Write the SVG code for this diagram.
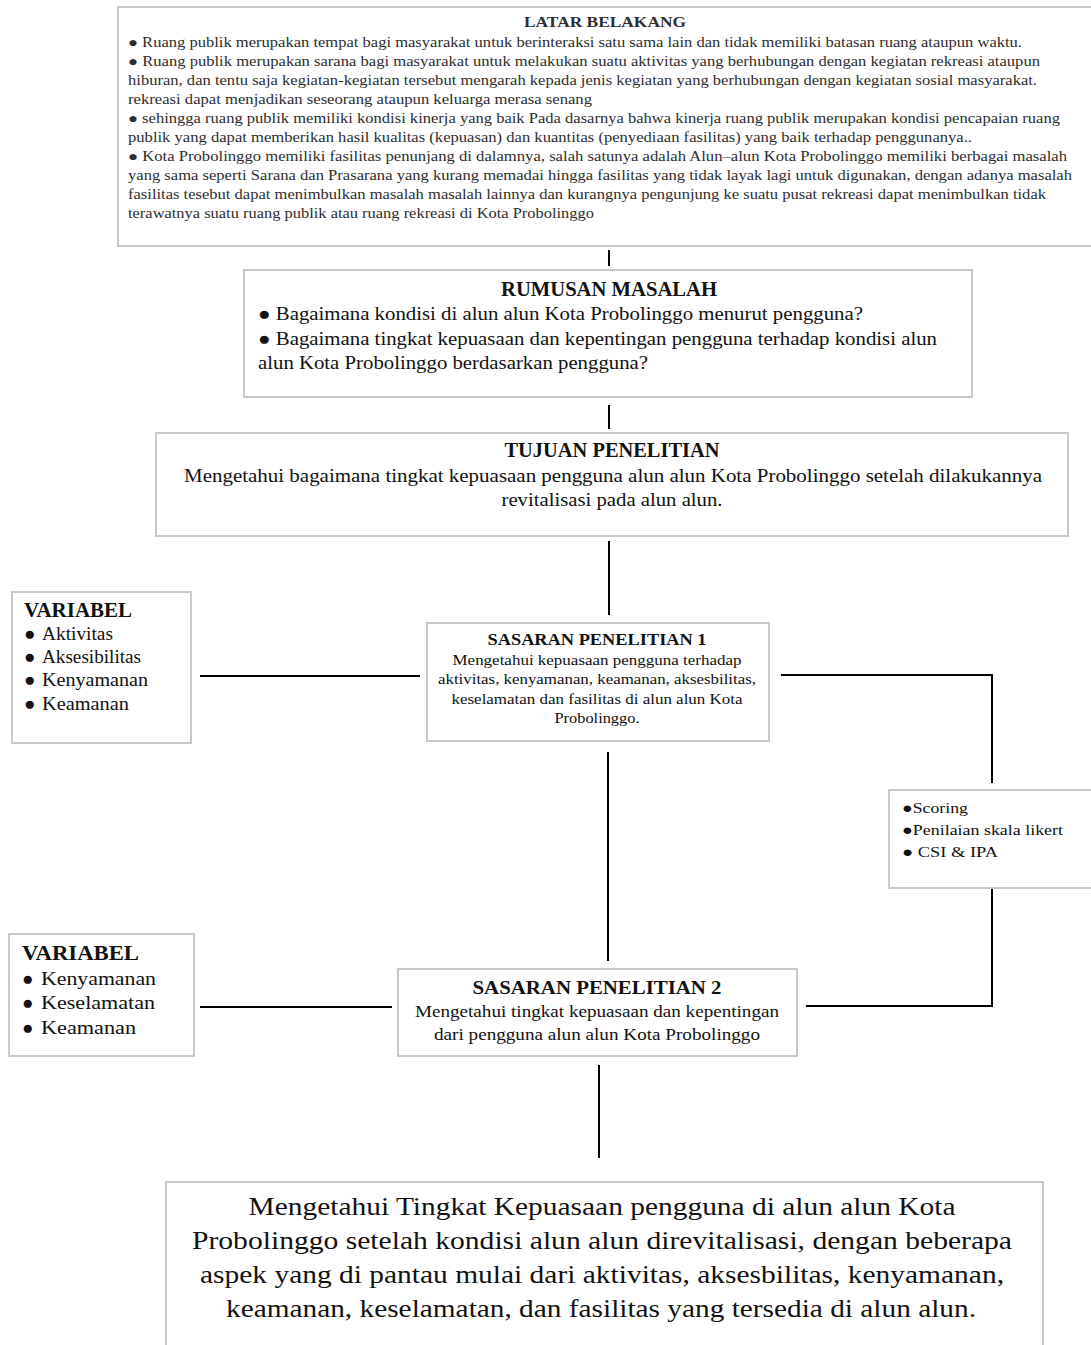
<svg xmlns="http://www.w3.org/2000/svg" width="1091" height="1345" viewBox="0 0 1091 1345">
<style>
.box{fill:#fff;stroke:#c8c8c8;stroke-width:2}
.conn{stroke:#000;stroke-width:2;fill:none}
text{font-family:"Liberation Serif","Times New Roman",serif;fill:#111}
.t13{font-size:14px;fill:#2e2e2e}
.h13{font-size:14px;font-weight:bold;fill:#2e2e2e}
.t19{font-size:19px}
.h20{font-size:20px;font-weight:bold}
.t15{font-size:15px}
.h16{font-size:16px;font-weight:bold}
.t16{font-size:16px}
.h18{font-size:18px;font-weight:bold}
.t26{font-size:26px}
.c{text-anchor:middle}
</style>
<rect width="1091" height="1345" fill="#fff"/>
<g id="connectors">
<line class="conn" x1="609" y1="250" x2="609" y2="266"/>
<line class="conn" x1="609" y1="405" x2="609" y2="429"/>
<line class="conn" x1="609" y1="541" x2="609" y2="615"/>
<line class="conn" x1="200" y1="676" x2="420" y2="676"/>
<polyline class="conn" points="781,675 992,675 992,783"/>
<polyline class="conn" points="992,888 992,1006 806,1006"/>
<line class="conn" x1="608" y1="752" x2="608" y2="961"/>
<line class="conn" x1="200" y1="1007" x2="392" y2="1007"/>
<line class="conn" x1="599" y1="1065" x2="599" y2="1158"/>
</g>
<g id="latar-belakang">
<rect class="box" x="118" y="7" width="980" height="239" stroke="#d4d4d4"/>
<text class="h13 c" x="605" y="27" textLength="162" lengthAdjust="spacingAndGlyphs">LATAR BELAKANG</text>
<text class="t13" x="128" y="47" textLength="894" lengthAdjust="spacingAndGlyphs">● Ruang publik  merupakan tempat bagi masyarakat untuk berinteraksi satu sama lain dan tidak memiliki  batasan ruang ataupun waktu.</text>
<text class="t13" x="128" y="66" textLength="912" lengthAdjust="spacingAndGlyphs">● Ruang publik  merupakan sarana bagi masyarakat untuk melakukan suatu aktivitas yang berhubungan dengan kegiatan rekreasi ataupun</text>
<text class="t13" x="128" y="85" textLength="909" lengthAdjust="spacingAndGlyphs">hiburan,  dan tentu saja kegiatan-kegiatan tersebut mengarah kepada jenis kegiatan yang berhubungan dengan kegiatan sosial masyarakat.</text>
<text class="t13" x="128" y="104" textLength="464" lengthAdjust="spacingAndGlyphs">rekreasi dapat menjadikan  seseorang ataupun keluarga merasa senang</text>
<text class="t13" x="128" y="123" textLength="932" lengthAdjust="spacingAndGlyphs">● sehingga ruang publik  memiliki  kondisi  kinerja yang baik Pada dasarnya bahwa kinerja ruang publik  merupakan kondisi  pencapaian ruang</text>
<text class="t13" x="128" y="142" textLength="844" lengthAdjust="spacingAndGlyphs">publik  yang dapat memberikan hasil kualitas (kepuasan) dan kuantitas (penyediaan fasilitas)  yang baik  terhadap penggunanya..</text>
<text class="t13" x="128" y="161" textLength="939" lengthAdjust="spacingAndGlyphs">● Kota Probolinggo  memiliki  fasilitas penunjang  di dalamnya,  salah satunya adalah Alun–alun  Kota Probolinggo   memiliki  berbagai masalah</text>
<text class="t13" x="128" y="180" textLength="944" lengthAdjust="spacingAndGlyphs">yang sama seperti Sarana dan Prasarana yang kurang memadai hingga  fasilitas  yang tidak layak lagi  untuk  digunakan,  dengan adanya masalah</text>
<text class="t13" x="128" y="199" textLength="918" lengthAdjust="spacingAndGlyphs">fasilitas  tesebut dapat menimbulkan  masalah masalah lainnya dan kurangnya  pengunjung  ke suatu pusat rekreasi dapat menimbulkan  tidak</text>
<text class="t13" x="128" y="218" textLength="466" lengthAdjust="spacingAndGlyphs">terawatnya suatu ruang publik  atau ruang rekreasi di Kota Probolinggo</text>
</g>
<g id="rumusan-masalah">
<rect class="box" x="244" y="270" width="728" height="127"/>
<text class="h20 c" x="609" y="296" textLength="216" lengthAdjust="spacingAndGlyphs">RUMUSAN MASALAH</text>
<text class="t19" x="258" y="320" textLength="605" lengthAdjust="spacingAndGlyphs">● Bagaimana  kondisi di alun alun Kota Probolinggo  menurut pengguna?</text>
<text class="t19" x="258" y="345" textLength="679" lengthAdjust="spacingAndGlyphs">● Bagaimana  tingkat kepuasaan dan kepentingan pengguna terhadap kondisi alun</text>
<text class="t19" x="258" y="369" textLength="390" lengthAdjust="spacingAndGlyphs">alun Kota Probolinggo  berdasarkan pengguna?</text>
</g>
<g id="tujuan-penelitian">
<rect class="box" x="156" y="433" width="912" height="103"/>
<text class="h20 c" x="612" y="457" textLength="215" lengthAdjust="spacingAndGlyphs">TUJUAN PENELITIAN</text>
<text class="t19" x="184" y="482" textLength="858" lengthAdjust="spacingAndGlyphs">Mengetahui bagaimana  tingkat kepuasaan pengguna alun alun Kota Probolinggo setelah dilakukannya</text>
<text class="t19 c" x="612" y="506" textLength="221" lengthAdjust="spacingAndGlyphs">revitalisasi pada alun alun.</text>
</g>
<g id="variabel-1">
<rect class="box" x="12" y="592" width="179" height="151"/>
<text class="h20" x="24" y="617" textLength="108" lengthAdjust="spacingAndGlyphs">VARIABEL</text>
<text class="t19" x="24" y="640">●</text><text class="t19" x="42" y="640" textLength="71" lengthAdjust="spacingAndGlyphs">Aktivitas</text>
<text class="t19" x="24" y="663">●</text><text class="t19" x="42" y="663" textLength="99" lengthAdjust="spacingAndGlyphs">Aksesibilitas</text>
<text class="t19" x="24" y="686">●</text><text class="t19" x="42" y="686" textLength="106" lengthAdjust="spacingAndGlyphs">Kenyamanan</text>
<text class="t19" x="24" y="710">●</text><text class="t19" x="42" y="710" textLength="87" lengthAdjust="spacingAndGlyphs">Keamanan</text>
</g>
<g id="sasaran-1">
<rect class="box" x="427" y="623" width="342" height="118"/>
<text class="h16 c" x="597" y="645" textLength="219" lengthAdjust="spacingAndGlyphs">SASARAN PENELITIAN  1</text>
<text class="t15 c" x="597" y="665" textLength="289" lengthAdjust="spacingAndGlyphs">Mengetahui kepuasaan pengguna  terhadap</text>
<text class="t15 c" x="597" y="684" textLength="318" lengthAdjust="spacingAndGlyphs">aktivitas, kenyamanan, keamanan,  aksesbilitas,</text>
<text class="t15 c" x="597" y="704" textLength="291" lengthAdjust="spacingAndGlyphs">keselamatan dan fasilitas di alun alun Kota</text>
<text class="t15 c" x="597" y="723" textLength="85" lengthAdjust="spacingAndGlyphs">Probolinggo.</text>
</g>
<g id="metode">
<rect class="box" x="889" y="790" width="210" height="98" stroke="#dcdcdc"/>
<text class="t15" x="902" y="813" textLength="66" lengthAdjust="spacingAndGlyphs">●Scoring</text>
<text class="t15" x="902" y="835" textLength="161" lengthAdjust="spacingAndGlyphs">●Penilaian  skala likert</text>
<text class="t15" x="902" y="857" textLength="96" lengthAdjust="spacingAndGlyphs">● CSI &amp; IPA</text>
</g>
<g id="variabel-2">
<rect class="box" x="9" y="934" width="185" height="122"/>
<text class="h20" x="22" y="960" textLength="117" lengthAdjust="spacingAndGlyphs">VARIABEL</text>
<text class="t19" x="22" y="985">●</text><text class="t19" x="41" y="985" textLength="115" lengthAdjust="spacingAndGlyphs">Kenyamanan</text>
<text class="t19" x="22" y="1009">●</text><text class="t19" x="41" y="1009" textLength="114" lengthAdjust="spacingAndGlyphs">Keselamatan</text>
<text class="t19" x="22" y="1034">●</text><text class="t19" x="41" y="1034" textLength="95" lengthAdjust="spacingAndGlyphs">Keamanan</text>
</g>
<g id="sasaran-2">
<rect class="box" x="398" y="969" width="399" height="87"/>
<text class="h18 c" x="597" y="994" textLength="249" lengthAdjust="spacingAndGlyphs">SASARAN PENELITIAN  2</text>
<text class="t16 c" x="597" y="1017" textLength="364" lengthAdjust="spacingAndGlyphs">Mengetahui tingkat kepuasaan dan kepentingan</text>
<text class="t16 c" x="597" y="1040" textLength="326" lengthAdjust="spacingAndGlyphs">dari pengguna   alun alun Kota Probolinggo</text>
</g>
<g id="kesimpulan">
<rect class="box" x="166" y="1182" width="877" height="175"/>
<text class="t26 c" x="602" y="1215" textLength="707" lengthAdjust="spacingAndGlyphs">Mengetahui Tingkat Kepuasaan pengguna di alun alun Kota</text>
<text class="t26 c" x="602" y="1249" textLength="820" lengthAdjust="spacingAndGlyphs">Probolinggo setelah kondisi alun alun direvitalisasi, dengan beberapa</text>
<text class="t26 c" x="602" y="1283" textLength="804" lengthAdjust="spacingAndGlyphs">aspek yang di pantau mulai  dari aktivitas, aksesbilitas, kenyamanan,</text>
<text class="t26 c" x="601" y="1317" textLength="750" lengthAdjust="spacingAndGlyphs">keamanan, keselamatan, dan fasilitas yang tersedia di alun alun.</text>
</g>
</svg>
